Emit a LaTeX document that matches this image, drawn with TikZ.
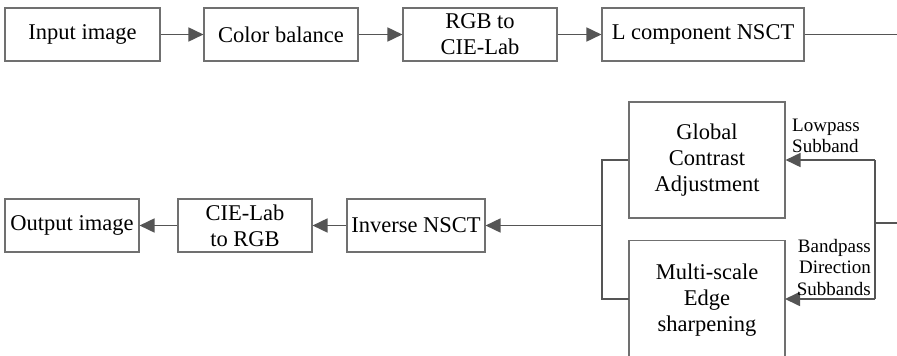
\documentclass[tikz,border=0pt]{standalone}
\usepackage{fontspec}
\setmainfont{Liberation Serif}
\usetikzlibrary{arrows.meta}
\definecolor{linecol}{HTML}{555555}
\definecolor{boxcol}{HTML}{707070}
\begin{document}
\begin{tikzpicture}[x=1pt,y=-1pt,
  box/.style={draw=boxcol,line width=1.1pt,rectangle,inner sep=0pt,align=center,
    font=\fontsize{22.5}{26}\selectfont},
  conn/.style={draw=linecol,line width=1.7pt},
  arr/.style={conn,-{Triangle[length=15pt,width=14pt]}},
  lbl/.style={inner sep=0pt,font=\fontsize{19}{21.5}\selectfont}]
\useasboundingbox (0,0) rectangle (897,356);
% top row
\node[box,minimum width=155pt,minimum height=53pt] (in) at (82.5,34.5) {Input image};
\node[box,minimum width=154pt,minimum height=53pt] (cb) at (281,34.5) {Color balance};
\node[box,minimum width=154pt,minimum height=53pt] (rgb) at (480,34.5) {RGB to\\CIE-Lab};
\node[box,minimum width=202pt,minimum height=53pt] (lnsct) at (703,34.5) {L component NSCT};
\coordinate (e1) at (897,34.5);
\draw[arr] (in) -- (cb);
\draw[arr] (cb) -- (rgb);
\draw[arr] (rgb) -- (lnsct);
\draw[conn] (lnsct) -- (e1);
% bottom row
\node[box,minimum width=134pt,minimum height=53pt] (out) at (72,225.5) {Output image};
\node[box,minimum width=134pt,minimum height=53pt] (lab) at (245,225.5) {CIE-Lab\\to RGB};
\node[box,minimum width=138pt,minimum height=53pt] (inv) at (416,225.5) {Inverse NSCT};
\node[box,minimum width=156pt,minimum height=116pt] (gca) at (707,160) {Global\\Contrast\\Adjustment};
\node[box,minimum width=156pt,minimum height=120pt,anchor=north] (mes) at (707,240) {Multi-scale\\Edge\\sharpening};
% buses
\coordinate (lt) at (602,160);
\coordinate (lb) at (602,299);
\coordinate (lm) at (602,225.5);
\coordinate (rt) at (875,160);
\coordinate (rb) at (875,299);
\coordinate (rm) at (875,223);
\coordinate (e2) at (897,223);
\coordinate (mesw) at (629,299);
\coordinate (mese) at (785,299);
\draw[conn] (gca.west) -- (lt) -- (lb) -- (mesw);
\draw[arr] (lm) -- (inv);
\draw[arr] (lab) -- (out);
\draw[arr] (inv) -- (lab);
\draw[conn] (e2) -- (rm);
\draw[conn] (rt) -- (rb);
\draw[arr] (rt) -- (gca.east);
\draw[arr] (rb) -- (mese);
% labels
\node[lbl,align=left,anchor=west] (lp) at (792,136) {Lowpass\\Subband};
\node[lbl,align=right,anchor=east] (bp) at (871,267) {Bandpass\\Direction\\Subbands};
\end{tikzpicture}
\end{document}
